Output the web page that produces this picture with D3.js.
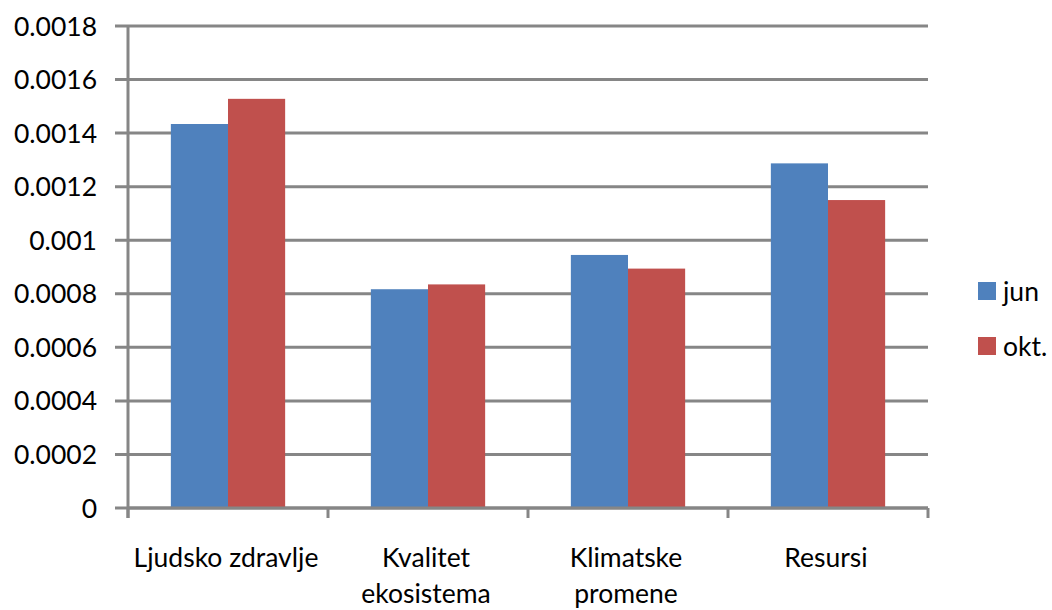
<!DOCTYPE html>
<html lang="sr">
<head>
<meta charset="UTF-8">
<title>jun / okt.</title>
<script src="https://cdnjs.cloudflare.com/ajax/libs/d3/7.8.5/d3.min.js"></script>
<style>
    body { margin: 0; background: #fff; }
    svg text { font-family: Lato, "Open Sans", sans-serif; fill: #000; }
</style>
</head>
<body>
<div id="chart"></div>
<script>
    // Data
    const categories = ["Ljudsko zdravlje", "Kvalitet ekosistema", "Klimatske promene", "Resursi"];
    const categoryLines = [["Ljudsko zdravlje"], ["Kvalitet", "ekosistema"], ["Klimatske", "promene"], ["Resursi"]];
    const seriesNames = ["jun", "okt."];
    const junValues = [0.001434, 0.000817, 0.000945, 0.001287];
    const oktValues = [0.001528, 0.000835, 0.000894, 0.00115];
    const tickValues = [0, 0.0002, 0.0004, 0.0006, 0.0008, 0.001, 0.0012, 0.0014, 0.0016, 0.0018];
    const tickLabels = ["0", "0.0002", "0.0004", "0.0006", "0.0008", "0.001", "0.0012", "0.0014", "0.0016", "0.0018"];
    const colors = ["#4f81bd", "#c0504d"];

    const width = 1052, height = 610;
    const plotLeft = 128, plotRight = 928, plotTop = 26, plotBottom = 508;
    const gridColor = "#868686";
    const fontSize = "26.5px";

    const svg = d3.select("#chart").append("svg")
        .attr("width", width)
        .attr("height", height);

    const x = d3.scaleBand()
        .domain(categories)
        .range([plotLeft, plotRight])
        .paddingInner(0)
        .paddingOuter(0);

    const y = d3.scaleLinear()
        .domain([0, 0.0018])
        .range([plotBottom, plotTop]);

    // Excel gap width 150%
    const barW = x.bandwidth() / 3.5;
    const gap = barW * 0.75;

    // gridlines + left ticks
    svg.append("g").selectAll("line")
        .data(tickValues)
        .join("line")
        .attr("x1", plotLeft - 13)
        .attr("x2", plotRight)
        .attr("y1", d => y(d))
        .attr("y2", d => y(d))
        .attr("stroke", gridColor)
        .attr("stroke-width", 3);

    // y axis line
    svg.append("line")
        .attr("x1", plotLeft).attr("x2", plotLeft)
        .attr("y1", plotTop).attr("y2", plotBottom + 10)
        .attr("stroke", gridColor)
        .attr("stroke-width", 3);

    // y tick labels
    svg.append("g").selectAll("text")
        .data(tickValues)
        .join("text")
        .attr("x", 97)
        .attr("y", d => y(d))
        .attr("dy", "0.36em")
        .attr("text-anchor", "end")
        .style("font-size", fontSize)
        .text((d, i) => tickLabels[i]);

    // bars
    const series = [junValues, oktValues];
    series.forEach((vals, s) => {
        svg.append("g").selectAll("rect")
            .data(categories)
            .join("rect")
            .attr("x", d => x(d) + gap + s * barW)
            .attr("y", (d, i) => y(vals[i]))
            .attr("width", barW)
            .attr("height", (d, i) => y(0) - y(vals[i]))
            .attr("fill", colors[s]);
    });

    // x axis line + category tick marks
    svg.append("line")
        .attr("x1", plotLeft).attr("x2", plotRight)
        .attr("y1", plotBottom).attr("y2", plotBottom)
        .attr("stroke", gridColor)
        .attr("stroke-width", 3);

    const edges = categories.map(c => x(c)).concat([plotRight]);
    svg.append("g").selectAll("line")
        .data(edges)
        .join("line")
        .attr("x1", d => d).attr("x2", d => d)
        .attr("y1", plotBottom).attr("y2", plotBottom + 10)
        .attr("stroke", gridColor)
        .attr("stroke-width", 3);

    // category labels
    const catLabels = svg.append("g").selectAll("text")
        .data(categories)
        .join("text")
        .attr("text-anchor", "middle")
        .style("font-size", fontSize);

    catLabels.each(function(d, i) {
        const t = d3.select(this);
        categoryLines[i].forEach((line, k) => {
            t.append("tspan")
                .attr("x", x(d) + x.bandwidth() / 2 - 2)
                .attr("y", 567 + k * 36)
                .text(line);
        });
    });

    // legend
    const legend = svg.append("g").selectAll("g")
        .data(seriesNames)
        .join("g")
        .attr("transform", (d, i) => `translate(978, ${282 + i * 55})`);

    legend.append("rect")
        .attr("width", 18)
        .attr("height", 18)
        .attr("fill", (d, i) => colors[i]);

    legend.append("text")
        .attr("x", 25)
        .attr("y", 9)
        .attr("dy", "0.36em")
        .style("font-size", fontSize)
        .text(d => d);
</script>
</body>
</html>
